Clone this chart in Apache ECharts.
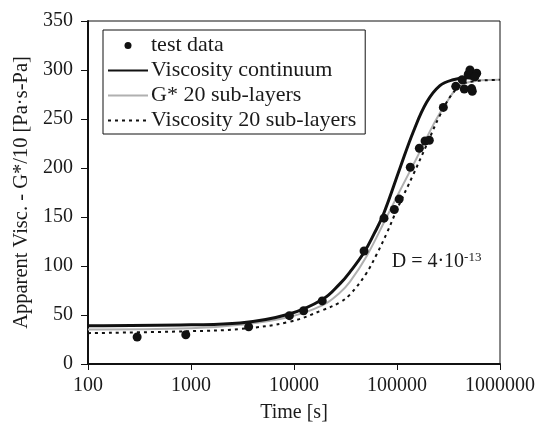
<!DOCTYPE html>
<html>
<head>
<meta charset="utf-8">
<script src="https://cdn.jsdelivr.net/npm/echarts@6/dist/echarts.min.js"></script>
<style>
html,body{margin:0;padding:0;background:#fff;}
#chart{width:540px;height:428px;}
</style>
</head>
<body>
<div id="chart"></div>
<script>
// ---- data ----
var testTime  = [300, 890, 3630, 9020, 12400, 18800, 47900, 74800, 94200, 105000, 134600, 164800, 187200, 206000, 281700, 371700, 430000, 450000, 492000, 511000, 538000, 530000, 594000, 570000];
var testValue = [27.5, 29.9, 37.9, 49.3, 54.3, 64.4, 115.3, 148.8, 157.6, 168.3, 200.8, 220.2, 227.6, 228.3, 261.8, 283.3, 290, 280.6, 295.7, 300, 278.3, 281, 296.7, 293];

var contTime  = [100, 1000, 3000, 9000, 19000, 28000, 35000, 48000, 60000, 74000, 107000, 144000, 194000, 261000, 352000, 475000, 550000];
var contValue = [39, 40, 41.8, 51, 66, 82, 94, 114, 133, 153, 200, 237, 267, 284, 290, 292, 291];

var gTime  = [100, 1000, 3000, 9000, 19000, 28000, 35000, 50700, 79400, 107000, 155000, 225000, 303000, 409000, 594000, 1000000];
var gValue = [35.3, 36.5, 40, 48, 60, 73, 84, 110, 150, 177, 210, 244, 267, 284, 289, 290];

var vsTime  = [100, 1000, 3000, 9000, 19000, 28000, 35000, 50000, 63500, 80000, 99300, 144000, 194000, 261000, 352000, 475000, 1000000];
var vsValue = [31.5, 33.5, 35.8, 43, 55, 63, 71, 92, 112, 134, 157, 193.4, 223.6, 253.7, 277, 287.3, 290];

var seriesNames = ['test data', 'Viscosity continuum', 'G* 20 sub-layers', 'Viscosity 20 sub-layers'];
var xTickLabels = ['100', '1000', '10000', '100000', '1000000'];
var yTicks = [0, 50, 100, 150, 200, 250, 300, 350];
var annotation = {time: 88800, value: 104, main: 'D = 4·10', sup: '-13'};

function pairs(xs, ys) { return xs.map(function (x, i) { return [x, ys[i]]; }); }

var FONT = '"Liberation Serif", "Times New Roman", serif';
var TXT = '#1a1a1a';
var hiddenSymbol = {color: 'transparent', borderWidth: 0, opacity: 0};

var chart = echarts.init(document.getElementById('chart'), null, {renderer: 'canvas'});
chart.setOption({
  animation: false,
  backgroundColor: '#fff',
  textStyle: {fontFamily: FONT, color: TXT},
  grid: {left: 88, right: 40, top: 21, bottom: 59, show: true, borderColor: '#111', borderWidth: 1, backgroundColor: 'transparent'},
  legend: {
    left: 103, top: 30, orient: 'vertical',
    padding: [3, 9, 1, 4], itemGap: 0,
    itemWidth: 40, itemHeight: 7,
    borderColor: '#111', borderWidth: 1, backgroundColor: '#fff',
    textStyle: {fontFamily: FONT, fontSize: 22, color: TXT, lineHeight: 25, padding: [0, 0, 0, -2]},
    data: [
      {name: seriesNames[0], icon: 'circle', itemStyle: {color: '#111', opacity: 1}},
      {name: seriesNames[1], itemStyle: hiddenSymbol},
      {name: seriesNames[2], itemStyle: hiddenSymbol},
      {name: seriesNames[3], itemStyle: hiddenSymbol}
    ]
  },
  xAxis: {
    type: 'log', logBase: 10, min: 100, max: 1000000,
    name: 'Time [s]', nameLocation: 'middle', nameGap: 39,
    nameTextStyle: {fontFamily: FONT, fontSize: 20, color: TXT},
    axisLine: {lineStyle: {color: '#111', width: 2}},
    axisTick: {show: true, length: 6, lineStyle: {color: '#111', width: 1}},
    minorTick: {show: false},
    splitLine: {show: false},
    axisLabel: {
      fontFamily: FONT, fontSize: 20, color: TXT, margin: 12,
      formatter: function (v) {
        var e = Math.round(Math.log10(v)) - 2;
        return xTickLabels[e] !== undefined ? xTickLabels[e] : String(Math.round(v));
      }
    }
  },
  yAxis: {
    type: 'value', min: yTicks[0], max: yTicks[yTicks.length - 1], interval: 50,
    name: 'Apparent Visc. - G*/10 [Pa·s-Pa]', nameLocation: 'middle', nameGap: 56,
    nameTextStyle: {fontFamily: FONT, fontSize: 20.5, color: TXT},
    axisLine: {show: true, lineStyle: {color: '#111', width: 2}},
    axisTick: {show: true, length: 7, lineStyle: {color: '#111', width: 1}},
    splitLine: {show: false},
    axisLabel: {fontFamily: FONT, fontSize: 20, color: TXT, margin: 15}
  },
  series: [
    {
      name: seriesNames[0], type: 'scatter', z: 5,
      symbol: 'circle', symbolSize: 9,
      itemStyle: {color: '#111', opacity: 1},
      data: pairs(testTime, testValue),
      markPoint: {
        symbol: 'circle', symbolSize: 0, silent: true,
        itemStyle: {color: 'transparent'},
        label: {
          show: true, position: [0, 0], align: 'left', verticalAlign: 'middle',
          formatter: '{a|' + annotation.main + '}{b|' + annotation.sup + '}',
          rich: {
            a: {fontFamily: FONT, fontSize: 20, color: TXT, lineHeight: 22},
            b: {fontFamily: FONT, fontSize: 13, color: TXT, verticalAlign: 'top', lineHeight: 13}
          }
        },
        data: [{coord: [annotation.time, annotation.value]}]
      }
    },
    {
      name: seriesNames[1], type: 'line', z: 4, smooth: 0.4,
      symbol: 'none', showSymbol: false,
      lineStyle: {color: '#111', width: 3},
      itemStyle: {color: '#111'},
      data: pairs(contTime, contValue)
    },
    {
      name: seriesNames[2], type: 'line', z: 3, smooth: 0.4,
      symbol: 'none', showSymbol: false,
      lineStyle: {color: '#b0b0b0', width: 2},
      itemStyle: {color: '#b0b0b0'},
      data: pairs(gTime, gValue)
    },
    {
      name: seriesNames[3], type: 'line', z: 3, smooth: 0.4,
      symbol: 'none', showSymbol: false,
      lineStyle: {color: '#111', width: 2, type: [3, 4]},
      itemStyle: {color: '#111'},
      data: pairs(vsTime, vsValue)
    }
  ]
});
</script>
</body>
</html>
